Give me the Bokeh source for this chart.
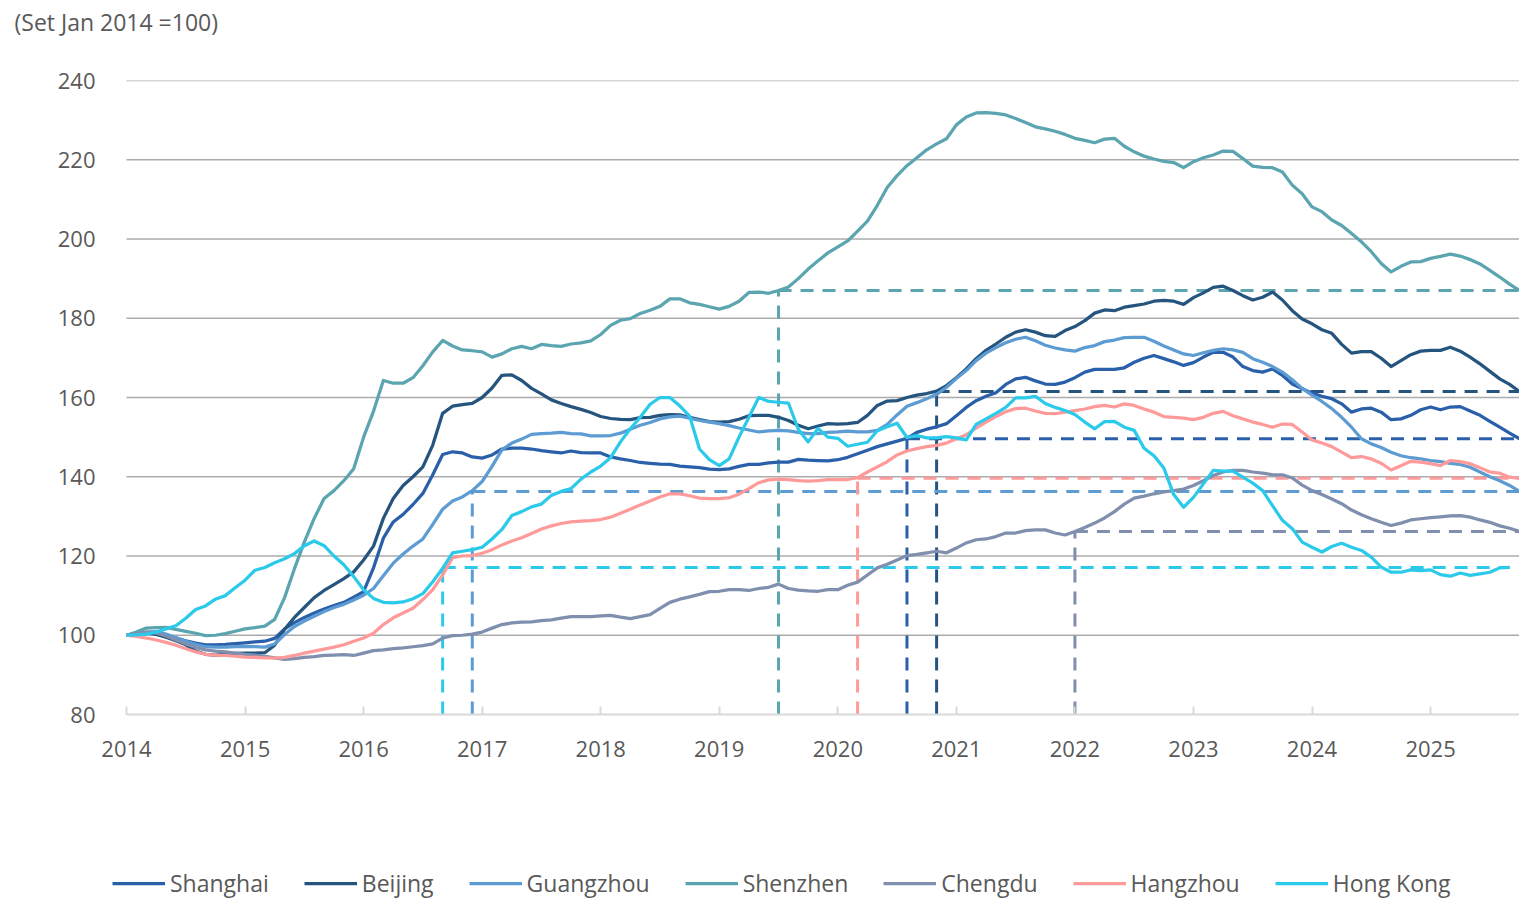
import numpy as np
import pandas as pd
from bokeh.plotting import figure
from bokeh.models import FixedTicker, Legend, LegendItem, Title
from bokeh.embed import file_html
from bokeh.resources import INLINE

# ---------------- data ----------------
title_text = "(Set Jan 2014 =100)"
start_month = "2014-01"
cities = ["Shanghai", "Beijing", "Guangzhou", "Shenzhen", "Chengdu", "Hangzhou", "Hong Kong"]
colors = ["#2A5FAA", "#25547F", "#5D9BD3", "#5AA5AF", "#7F8FAD", "#FF9A9A", "#2BC9EA"]

shanghai = [
    100.0, 100.2, 100.6, 100.5, 100.0, 99.3, 98.6, 98.0, 97.6, 97.6, 97.7, 97.9,
    98.1, 98.3, 98.5, 99.2, 101.6, 103.2, 104.5, 105.6, 106.6, 107.5, 108.3, 109.6,
    111.0, 117.0, 124.5, 128.6, 130.5, 133.0, 135.8, 140.5, 145.6, 146.3, 146.0, 145.0,
    144.7, 145.5, 147.0, 147.2, 147.2, 147.0, 146.6, 146.3, 146.0, 146.5, 146.1, 146.0,
    146.0, 145.0, 144.5, 144.1, 143.6, 143.4, 143.2, 143.1, 142.7, 142.5, 142.3, 141.9,
    141.8, 142.0, 142.6, 143.1, 143.1, 143.5, 143.7, 143.7, 144.4, 144.2, 144.1, 144.0,
    144.3, 144.9, 145.8, 146.7, 147.6, 148.3, 149.0, 149.7, 151.2, 152.0, 152.6, 153.4,
    155.4, 157.5, 159.2, 160.3, 161.2, 163.3, 164.7, 165.1, 164.2, 163.4, 163.3, 163.9,
    165.0, 166.4, 167.1, 167.1, 167.1, 167.5, 168.9, 169.9, 170.6, 169.8, 169.0, 168.1,
    168.8, 170.2, 171.4, 171.4, 170.2, 167.8, 166.8, 166.4, 167.2, 165.6, 163.4, 162.2,
    161.1, 160.3, 159.7, 158.4, 156.3, 157.1, 157.3, 156.3, 154.4, 154.6, 155.5, 156.9,
    157.6, 156.9, 157.6, 157.7, 156.6, 155.5, 154.0, 152.5, 151.0, 149.6,
]
beijing = [
    100.0, 100.3, 100.6, 100.2, 99.5, 98.6, 97.6, 96.0, 95.2, 95.0, 95.2, 95.4,
    95.5, 95.5, 95.6, 97.5, 101.5, 104.5, 107.0, 109.5, 111.3, 112.8, 114.3, 116.0,
    119.0, 122.5, 129.5, 134.5, 137.8, 140.0, 142.5, 148.0, 156.0, 157.8, 158.2, 158.5,
    160.0, 162.4, 165.6, 165.7, 164.3, 162.3, 160.9, 159.4, 158.5, 157.7, 157.0, 156.2,
    155.2, 154.7, 154.5, 154.4, 154.9, 155.0, 155.5, 155.7, 155.6, 155.0, 154.4, 153.9,
    153.8, 153.9, 154.5, 155.4, 155.5, 155.5, 155.0, 154.2, 153.0, 152.1, 152.8, 153.4,
    153.3, 153.4, 153.7, 155.5, 158.0, 159.1, 159.2, 160.0, 160.6, 161.0, 161.6, 163.0,
    165.0, 167.2, 169.8, 171.9, 173.5, 175.2, 176.5, 177.1, 176.5, 175.6, 175.4, 176.9,
    177.9, 179.4, 181.3, 182.1, 181.9, 182.8, 183.2, 183.6, 184.3, 184.5, 184.3, 183.5,
    185.2, 186.4, 187.8, 188.1, 187.0, 185.7, 184.6, 185.3, 186.6, 184.6, 181.9, 179.8,
    178.6, 177.1, 176.2, 173.4, 171.2, 171.6, 171.6, 169.9, 167.8, 169.3, 170.8, 171.7,
    171.9, 171.9, 172.7, 171.7, 170.2, 168.5, 166.6, 164.7, 163.3, 161.5,
]
guangzhou = [
    100.0, 100.3, 100.8, 100.9, 100.3, 99.4, 98.5, 97.7, 97.1, 97.0, 97.0, 97.1,
    97.2, 97.1, 97.0, 97.8, 100.2, 102.2, 103.6, 104.8, 106.0, 107.0, 107.8, 108.9,
    110.1, 111.8, 115.0, 118.2, 120.5, 122.5, 124.3, 128.0, 131.8, 133.9, 134.9, 136.5,
    138.8, 142.6, 146.8, 148.5, 149.5, 150.7, 150.9, 151.0, 151.2, 150.9, 150.8, 150.3,
    150.3, 150.4, 151.0, 152.0, 153.0, 153.7, 154.6, 155.1, 155.3, 154.8, 154.2, 153.8,
    153.4, 152.9, 152.3, 151.8, 151.3, 151.6, 151.7, 151.6, 151.2, 150.9, 150.9, 151.2,
    151.3, 151.5, 151.3, 151.3, 151.7, 153.2, 155.6, 157.8, 158.7, 159.7, 160.8, 162.6,
    164.8, 166.8, 169.3, 171.2, 172.6, 173.8, 174.7, 175.2, 174.3, 173.2, 172.5, 172.0,
    171.7, 172.6, 173.1, 174.1, 174.5, 175.1, 175.2, 175.2, 174.2, 173.0, 172.0, 171.0,
    170.6, 171.3, 171.9, 172.3, 172.0, 171.4, 169.8, 168.9, 167.8, 166.4, 164.5, 162.3,
    160.6, 159.0, 157.2, 155.0, 152.5, 149.6, 148.3, 147.4, 146.2, 145.3, 144.8, 144.5,
    144.1, 143.8, 143.4, 143.1, 142.4, 141.2, 140.0, 139.0, 137.8, 136.3,
]
shenzhen = [
    100.0, 100.8, 101.8, 101.9, 102.0, 101.5, 101.0, 100.5, 99.9, 100.0, 100.4, 101.0,
    101.6, 101.9, 102.3, 104.0, 109.5, 116.8, 123.5, 129.5, 134.5, 136.5, 139.0, 142.0,
    150.0, 156.5, 164.3, 163.6, 163.6, 165.0, 168.0, 171.5, 174.4, 173.0, 172.0, 171.8,
    171.5, 170.2, 171.0, 172.3, 172.9, 172.3, 173.4, 173.1, 172.9, 173.5, 173.8, 174.3,
    175.9, 178.2, 179.5, 179.9, 181.2, 182.0, 183.0, 184.9, 184.9, 183.9, 183.5, 182.9,
    182.3, 183.0, 184.3, 186.5, 186.6, 186.3, 187.0, 187.9, 190.0, 192.4, 194.5, 196.5,
    198.0, 199.5, 202.0, 204.5, 208.5, 213.0, 216.0, 218.5, 220.5, 222.5, 224.0, 225.3,
    228.8, 230.8, 231.8, 231.9, 231.7, 231.3, 230.4, 229.4, 228.3, 227.8, 227.2, 226.4,
    225.4, 224.9, 224.3, 225.2, 225.4, 223.4, 222.0, 220.9, 220.2, 219.6, 219.3, 218.0,
    219.5, 220.5, 221.2, 222.2, 222.1, 220.3, 218.4, 218.1, 218.0, 216.9, 213.6, 211.4,
    208.1, 206.9, 204.8, 203.4, 201.4, 199.3, 196.8, 193.8, 191.7, 193.1, 194.2, 194.3,
    195.1, 195.6, 196.2, 195.7, 194.8, 193.7, 192.1, 190.4, 188.6, 187.0,
]
chengdu = [
    100.0, 100.4, 100.8, 100.6, 99.8, 98.8, 97.8, 96.9, 96.3, 96.0, 95.8, 95.5,
    95.2, 95.0, 94.7, 94.3, 93.9, 94.1, 94.4, 94.6, 94.9, 95.0, 95.1, 94.9,
    95.5, 96.1, 96.3, 96.6, 96.8, 97.1, 97.4, 97.8, 99.3, 99.9, 100.0, 100.3,
    100.8, 101.8, 102.7, 103.1, 103.3, 103.4, 103.7, 103.9, 104.3, 104.7, 104.7, 104.7,
    104.9, 105.0, 104.6, 104.2, 104.7, 105.2, 106.8, 108.3, 109.1, 109.7, 110.3, 111.0,
    111.1, 111.5, 111.5, 111.3, 111.8, 112.1, 112.9, 111.8, 111.4, 111.2, 111.1, 111.5,
    111.5, 112.6, 113.4, 115.2, 117.0, 117.9, 119.0, 120.1, 120.4, 120.8, 121.2, 120.8,
    122.0, 123.3, 124.1, 124.3, 124.9, 125.8, 125.8, 126.4, 126.6, 126.6, 125.8, 125.3,
    126.2, 127.2, 128.3, 129.6, 131.2, 133.1, 134.6, 135.1, 135.7, 136.2, 136.5, 136.9,
    137.8, 139.0, 140.3, 141.2, 141.6, 141.6, 141.2, 140.9, 140.5, 140.5, 139.7, 137.9,
    136.5, 135.5, 134.4, 133.2, 131.6, 130.4, 129.4, 128.5, 127.7, 128.3, 129.1, 129.4,
    129.7, 129.9, 130.1, 130.2, 129.8, 129.1, 128.5, 127.6, 127.0, 126.2,
]
hangzhou = [
    100.0, 99.7, 99.3, 98.8, 98.2, 97.5, 96.6, 95.8, 95.2, 95.0, 94.9, 94.7,
    94.5, 94.4, 94.3, 94.2, 94.4, 94.9, 95.5, 96.0, 96.5, 97.0, 97.6, 98.5,
    99.3, 100.5, 102.7, 104.4, 105.6, 106.8, 109.0, 111.5, 115.2, 119.6, 120.0, 120.1,
    120.7, 121.6, 122.8, 123.8, 124.6, 125.7, 126.8, 127.6, 128.2, 128.6, 128.8, 128.9,
    129.2, 129.8, 130.8, 131.8, 132.9, 133.9, 134.9, 135.7, 135.7, 135.2, 134.6, 134.5,
    134.5, 134.7, 135.6, 137.0, 138.5, 139.2, 139.4, 139.3, 139.0, 138.9, 139.0, 139.3,
    139.3, 139.3, 139.8, 141.2, 142.5, 143.8, 145.5, 146.5, 147.1, 147.6, 147.9, 148.5,
    149.6, 150.6, 152.3, 153.8, 155.2, 156.4, 157.2, 157.3, 156.6, 156.0, 155.9, 156.3,
    156.7, 157.1, 157.7, 158.0, 157.6, 158.4, 158.0, 157.1, 156.3, 155.2, 155.0, 154.8,
    154.4, 155.0, 156.0, 156.5, 155.4, 154.6, 153.8, 153.2, 152.5, 153.3, 153.2, 151.3,
    149.3, 148.5, 147.6, 146.2, 144.8, 145.1, 144.5, 143.4, 141.7, 142.8, 143.9, 143.7,
    143.3, 142.8, 144.1, 143.8, 143.3, 142.3, 141.2, 140.9, 139.9, 139.6,
]
hong_kong = [
    100.0, 100.1, 100.3, 100.8, 101.6, 102.4, 104.3, 106.5, 107.4, 109.1, 110.0, 112.0,
    113.9, 116.4, 117.1, 118.3, 119.3, 120.6, 122.6, 123.8, 122.6, 120.0, 117.8, 114.8,
    111.5, 109.3, 108.3, 108.2, 108.4, 109.2, 110.5, 113.5, 116.9, 120.8, 121.2, 121.6,
    122.2, 124.3, 126.7, 130.2, 131.2, 132.4, 133.1, 135.3, 136.3, 137.0, 139.4, 141.2,
    142.7, 144.8, 148.8, 152.1, 155.0, 158.3, 160.0, 160.0, 157.9, 155.3, 147.0, 144.3,
    142.8, 144.5, 150.0, 155.0, 160.0, 159.0, 158.8, 158.6, 152.0, 148.8, 152.2, 150.0,
    149.7, 147.7, 148.2, 148.7, 151.6, 152.6, 153.5, 149.9, 150.4, 149.8, 149.8, 150.1,
    149.8, 149.3, 153.2, 154.6, 156.0, 157.5, 159.9, 159.9, 160.3, 158.5, 157.5, 156.7,
    155.7, 153.8, 152.1, 153.9, 154.0, 152.5, 151.7, 147.2, 145.3, 142.2, 135.5, 132.3,
    134.8, 138.2, 141.6, 141.4, 141.4, 139.9, 138.4, 136.5, 132.7, 129.0, 126.9, 123.5,
    122.2, 121.0, 122.4, 123.2, 122.2, 121.4, 119.7, 117.2, 115.9, 115.9, 116.5, 116.3,
    116.5, 115.3, 114.9, 115.7, 115.1, 115.5, 115.9, 117.0, 117.1,
]
series = [shanghai, beijing, guangzhou, shenzhen, chengdu, hangzhou, hong_kong]

# month in which each city's index was last at today's level
match_months = ["2020-08", "2020-11", "2016-12", "2019-07", "2022-01", "2020-03", "2016-09"]

year_ticks = list(range(2014, 2026))
y_ticks = [80, 100, 120, 140, 160, 180, 200, 220, 240]

# ---------------- layout geometry (pixels) ----------------
W, H = 1519, 900
TOP = 80           # frame top (240 line)
AXIS_Y = 714       # pixel row of the 80 baseline / x axis
DATA_LEFT = 126    # pixel column of the first month
FRAME_LEFT = 96    # frame starts a bit further left so edge labels are not clipped

# ---------------- helpers ----------------
def frac_year(ts):
    return ts.year + (ts.month - 1) / 12.0

n_max = max(len(s) for s in series)
months = pd.date_range(start_month, periods=n_max, freq="MS")
xs_all = np.array([frac_year(t) for t in months])

px_per_year = (W - DATA_LEFT) / (xs_all[-1] - xs_all[0])
x_start = xs_all[0] - (DATA_LEFT - FRAME_LEFT) / px_per_year
px_per_unit = (AXIS_Y - TOP) / (y_ticks[-1] - y_ticks[0])
y_start = y_ticks[0] - (H - AXIS_Y) / px_per_unit

TEXT = "#595959"
FONT = "Open Sans"
LW = 3.25

p = figure(
    width=W, height=H, title=None,
    x_range=(x_start, xs_all[-1]), y_range=(y_start, y_ticks[-1]),
    output_backend="svg", toolbar_location=None,
    min_border_left=FRAME_LEFT, min_border_right=0, min_border_top=TOP, min_border_bottom=0,
)
p.outline_line_color = None
p.background_fill_color = "white"

# spacer (closest to frame) then the real title above it
p.add_layout(Title(text=" ", text_font=FONT, text_font_size="22px", standoff=9), "above")
p.add_layout(Title(text=title_text, text_font=FONT, text_font_size="23px",
                   text_font_style="normal", text_color=TEXT, align="left",
                   offset=14 - FRAME_LEFT, standoff=4), "above")

# horizontal grid lines (only over the data span)
p.xgrid.grid_line_color = None
p.ygrid.grid_line_color = None
gy = y_ticks[1:]
p.segment(x0=[xs_all[0]] * len(gy), x1=[xs_all[-1]] * len(gy), y0=gy, y1=gy,
          line_color="#ABABAB", line_width=1.3)

# axes
p.xaxis.fixed_location = y_ticks[0]
p.xaxis.bounds = (xs_all[0], xs_all[-1])
p.xaxis.ticker = FixedTicker(ticks=year_ticks)
p.xaxis.major_label_overrides = {y: str(y) for y in year_ticks}
p.xaxis.axis_line_color = "#D9D9D9"
p.xaxis.axis_line_width = 2
p.xaxis.major_tick_line_color = "#D9D9D9"
p.xaxis.major_tick_line_width = 2
p.xaxis.major_tick_in = 8
p.xaxis.major_tick_out = 0
p.xaxis.minor_tick_line_color = None
p.xaxis.major_label_standoff = 26
p.xaxis.major_label_text_font = FONT
p.xaxis.major_label_text_font_size = "22px"
p.xaxis.major_label_text_color = TEXT

p.yaxis.ticker = FixedTicker(ticks=y_ticks)
p.yaxis.axis_line_color = None
p.yaxis.major_tick_line_color = None
p.yaxis.minor_tick_line_color = None
p.yaxis.major_tick_in = 0
p.yaxis.major_tick_out = 0
p.yaxis.major_label_standoff = 1
p.yaxis.major_label_text_font = FONT
p.yaxis.major_label_text_font_size = "22px"
p.yaxis.major_label_text_color = TEXT

# dashed reference lines (drawn below the series)
for vals, col, mm in zip(series, colors, match_months):
    mx = frac_year(pd.Timestamp(mm))
    last_x = xs_all[len(vals) - 1]
    final = vals[-1]
    p.segment(x0=[mx, mx], y0=[y_ticks[0], final], x1=[mx, last_x], y1=[final, final],
              line_color=col, line_width=3, line_dash="13 9")

# series
items = []
for name, vals, col in zip(cities, series, colors):
    r = p.line(xs_all[:len(vals)], vals, line_color=col, line_width=LW, line_join="round")
    items.append(LegendItem(label=name, renderers=[r]))

legend = Legend(
    items=items, orientation="horizontal", location=(112 - FRAME_LEFT, 1),
    glyph_width=53, glyph_height=20, label_standoff=5, spacing=35,
    padding=0, margin=0, border_line_color=None, background_fill_alpha=0,
    label_text_font=FONT, label_text_font_size="23px", label_text_color=TEXT,
)
p.add_layout(legend)

open("out.html", "w").write(file_html(p, INLINE))
